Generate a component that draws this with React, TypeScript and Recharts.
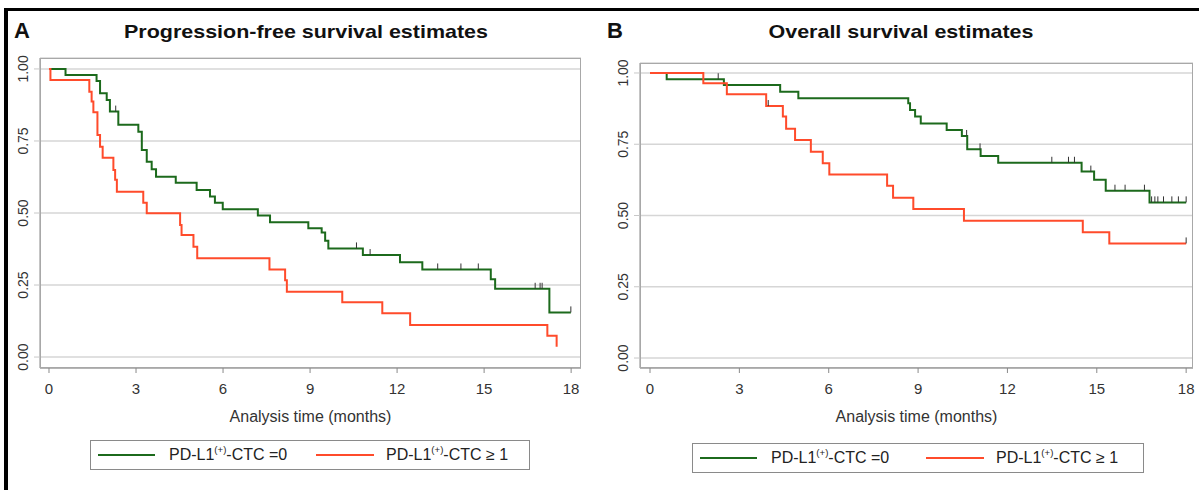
import React from 'react';
import {
  ComposedChart,
  Line,
  Scatter,
  XAxis,
  YAxis,
  CartesianGrid,
} from 'recharts';

// Kaplan-Meier step points: t = months, s = survival probability
const pfsCtc0 = [
  { t: 0, s: 1 }, { t: 0.57, s: 0.979 }, { t: 1.64, s: 0.958 }, { t: 1.76, s: 0.916 },
  { t: 1.99, s: 0.892 }, { t: 2.1, s: 0.852 }, { t: 2.39, s: 0.806 }, { t: 3.08, s: 0.782 },
  { t: 3.2, s: 0.719 }, { t: 3.37, s: 0.678 }, { t: 3.54, s: 0.652 }, { t: 3.69, s: 0.626 },
  { t: 4.37, s: 0.605 }, { t: 5.09, s: 0.58 }, { t: 5.55, s: 0.557 }, { t: 5.72, s: 0.536 },
  { t: 5.99, s: 0.513 }, { t: 7.2, s: 0.491 }, { t: 7.62, s: 0.468 }, { t: 8.94, s: 0.447 },
  { t: 9.4, s: 0.432 }, { t: 9.52, s: 0.404 }, { t: 9.63, s: 0.377 }, { t: 10.82, s: 0.354 },
  { t: 12.1, s: 0.329 }, { t: 12.87, s: 0.304 }, { t: 15.23, s: 0.27 }, { t: 15.38, s: 0.237 },
  { t: 17.25, s: 0.155 }, { t: 17.99, s: 0.155 },
];

const pfsCtc1 = [
  { t: 0, s: 1 }, { t: 0.05, s: 0.962 }, { t: 1.39, s: 0.921 }, { t: 1.47, s: 0.887 },
  { t: 1.53, s: 0.85 }, { t: 1.67, s: 0.771 }, { t: 1.76, s: 0.73 }, { t: 1.85, s: 0.692 },
  { t: 2.22, s: 0.649 }, { t: 2.28, s: 0.615 }, { t: 2.34, s: 0.574 }, { t: 3.25, s: 0.536 },
  { t: 3.37, s: 0.499 }, { t: 4.52, s: 0.458 }, { t: 4.57, s: 0.424 }, { t: 4.98, s: 0.383 },
  { t: 5.11, s: 0.343 }, { t: 7.6, s: 0.304 }, { t: 8.14, s: 0.267 }, { t: 8.2, s: 0.227 },
  { t: 10.11, s: 0.19 }, { t: 11.49, s: 0.152 }, { t: 12.45, s: 0.111 }, { t: 17.18, s: 0.074 },
  { t: 17.5, s: 0.036 },
];

const osCtc0 = [
  { t: 0, s: 1 }, { t: 0.56, s: 0.978 }, { t: 2.48, s: 0.958 }, { t: 4.37, s: 0.934 },
  { t: 4.98, s: 0.911 }, { t: 8.67, s: 0.894 }, { t: 8.73, s: 0.87 }, { t: 8.9, s: 0.847 },
  { t: 9.09, s: 0.823 }, { t: 9.96, s: 0.8 }, { t: 10.47, s: 0.779 }, { t: 10.65, s: 0.732 },
  { t: 11.1, s: 0.709 }, { t: 11.69, s: 0.685 }, { t: 14.49, s: 0.654 }, { t: 14.91, s: 0.625 },
  { t: 15.3, s: 0.587 }, { t: 16.77, s: 0.546 }, { t: 18, s: 0.546 },
];

const osCtc1 = [
  { t: 0, s: 1 }, { t: 1.79, s: 0.964 }, { t: 2.58, s: 0.925 }, { t: 3.9, s: 0.884 },
  { t: 4.46, s: 0.847 }, { t: 4.57, s: 0.804 }, { t: 4.87, s: 0.765 }, { t: 5.4, s: 0.724 },
  { t: 5.8, s: 0.683 }, { t: 6.02, s: 0.644 }, { t: 7.96, s: 0.604 }, { t: 8.16, s: 0.562 },
  { t: 8.84, s: 0.523 }, { t: 10.54, s: 0.482 }, { t: 14.53, s: 0.441 }, { t: 15.42, s: 0.402 },
  { t: 18, s: 0.402 },
];

// censored observations (tick marks)
const pfsCtc0Censored = [
  { t: 2.3, s: 0.852 }, { t: 10.6, s: 0.377 }, { t: 11.07, s: 0.354 }, { t: 13.4, s: 0.304 },
  { t: 14.2, s: 0.304 }, { t: 14.8, s: 0.304 }, { t: 16.76, s: 0.237 }, { t: 16.93, s: 0.237 },
  { t: 17.0, s: 0.237 }, { t: 17.99, s: 0.155 },
];
const pfsCtc1Censored: { t: number; s: number }[] = [];

const osCtc0Censored = [
  { t: 2.29, s: 0.978 }, { t: 10.63, s: 0.779 }, { t: 11.08, s: 0.732 }, { t: 13.49, s: 0.685 },
  { t: 14.05, s: 0.685 }, { t: 14.25, s: 0.685 }, { t: 14.8, s: 0.654 }, { t: 15.61, s: 0.587 },
  { t: 15.95, s: 0.587 }, { t: 16.6, s: 0.587 }, { t: 16.84, s: 0.546 }, { t: 16.95, s: 0.546 },
  { t: 17.05, s: 0.546 }, { t: 17.24, s: 0.546 }, { t: 17.52, s: 0.546 }, { t: 17.74, s: 0.546 },
  { t: 18, s: 0.546 },
];
const osCtc1Censored = [{ t: 3.97, s: 0.884 }, { t: 18, s: 0.402 }];

const monthTicks = [0, 3, 6, 9, 12, 15, 18];
const survivalTicks = [0, 0.25, 0.5, 0.75, 1];

const GREEN = '#1c6a1c';
const RED = '#ff4b2b';
const AXIS = '#8a8a8a';
const FONT = '"Liberation Sans", Arial, sans-serif';

const CensorMark = (props: any) => {
  const { cx, cy } = props;
  if (cx == null || cy == null) return <g />;
  return <line x1={cx} x2={cx} y1={cy} y2={cy - 6} stroke="#333" strokeWidth={1} />;
};

const YTick = (props: any) => {
  const { x, y, payload } = props;
  const cx = x - 9;
  return (
    <text
      transform={`translate(${cx},${y}) rotate(-90)`}
      textAnchor="middle"
      dominantBaseline="central"
      fontSize={14}
      fill="#333"
      fontFamily={FONT}
    >
      {Number(payload.value).toFixed(2)}
    </text>
  );
};

interface PanelProps {
  left: number;
  width: number;
  marginTop: number;
  marginRight: number;
  xDomain: [number, number];
  yDomain: [number, number];
  series0: { t: number; s: number }[];
  series1: { t: number; s: number }[];
  censor0: { t: number; s: number }[];
  censor1: { t: number; s: number }[];
  letter: string;
  title: string;
  titleCenter: number;
  legendLeft: number;
  legendWidth: number;
  legendTop: number;
  redOffset: number;
}

const LegendLabel = ({ suffix }: { suffix: string }) => (
  <span>
    PD-L1<sup style={{ fontSize: '0.6em', verticalAlign: '0.7em', lineHeight: 0 }}>(+)</sup>-CTC {suffix}
  </span>
);

function Panel(p: PanelProps) {
  const height = 490;
  const plotLeft = 40;
  const plotTop = p.marginTop;
  const plotWidth = p.width - plotLeft - p.marginRight;
  const plotHeight = height - plotTop - 122;
  return (
    <div style={{ position: 'absolute', left: p.left, top: 0, width: p.width, height }}>
      <div
        style={{
          position: 'absolute', left: p.letter === 'A' ? 14 : 7, top: 20,
          fontSize: 22, fontWeight: 'bold', lineHeight: 1, fontFamily: FONT, color: '#111',
        }}
      >
        {p.letter}
      </div>
      <div
        style={{
          position: 'absolute', left: p.titleCenter - 200, width: 400, top: 22, textAlign: 'center',
          fontSize: 19, fontWeight: 'bold', lineHeight: 1, fontFamily: FONT, color: '#111',
          transform: 'scaleX(1.13)',
        }}
      >
        {p.title}
      </div>
      <ComposedChart
        width={p.width}
        height={height}
        margin={{ top: p.marginTop, right: p.marginRight, bottom: 0, left: 0 }}
      >
        <CartesianGrid vertical={false} stroke="#d6d6d6" strokeWidth={1.5} />
        <XAxis
          type="number"
          dataKey="t"
          domain={p.xDomain}
          ticks={monthTicks}
          allowDataOverflow
          height={122}
          stroke={AXIS}
          tickSize={5}
          tickMargin={10}
          tick={{ fontSize: 15, fill: '#333', fontFamily: FONT }}
          label={{
            value: 'Analysis time (months)', position: 'insideTop', offset: 43,
            style: { fontSize: 16, fill: '#333', fontFamily: FONT },
          }}
        />
        <YAxis
          type="number"
          dataKey="s"
          domain={p.yDomain}
          ticks={survivalTicks}
          allowDataOverflow
          width={40}
          stroke={AXIS}
          tickLine={{ stroke: '#c8c8c8' }}
          tickSize={6}
          tick={<YTick />}
        />
        <Line data={p.series0} dataKey="s" type="stepAfter" stroke={GREEN} strokeWidth={2} dot={false} isAnimationActive={false} />
        <Line data={p.series1} dataKey="s" type="stepAfter" stroke={RED} strokeWidth={2} dot={false} isAnimationActive={false} />
        <Scatter data={p.censor0} dataKey="s" shape={<CensorMark />} isAnimationActive={false} />
        <Scatter data={p.censor1} dataKey="s" shape={<CensorMark />} isAnimationActive={false} />
      </ComposedChart>
      <div
        style={{
          position: 'absolute', left: plotLeft, top: plotTop, width: plotWidth, height: plotHeight,
          border: '1px solid #a8a8a8', boxSizing: 'border-box', pointerEvents: 'none',
        }}
      />
      <div
        style={{
          position: 'absolute', left: p.legendLeft, top: p.legendTop, width: p.legendWidth, height: 30,
          border: '1px solid #8a8a8a', boxSizing: 'border-box', fontFamily: FONT, fontSize: 16, color: '#222',
        }}
      >
        <div style={{ position: 'absolute', left: 7, top: 13, width: 57, height: 2, background: GREEN }} />
        <div style={{ position: 'absolute', left: 78, top: 5, lineHeight: '18px', whiteSpace: 'nowrap' }}>
          <LegendLabel suffix="=0" />
        </div>
        <div style={{ position: 'absolute', left: p.redOffset, top: 13, width: 58, height: 2, background: RED }} />
        <div style={{ position: 'absolute', left: p.redOffset + 70, top: 5, lineHeight: '18px', whiteSpace: 'nowrap' }}>
          <LegendLabel suffix="≥ 1" />
        </div>
      </div>
    </div>
  );
}

export default function App() {
  return (
    <div style={{ position: 'absolute', left: 0, top: 0, width: 1199, height: 490, background: '#fff', overflow: 'hidden' }}>
      <Panel
        left={0}
        width={600}
        marginTop={58}
        marginRight={19}
        xDomain={[-0.31, 18.34]}
        yDomain={[-0.038, 1.038]}
        series0={pfsCtc0}
        series1={pfsCtc1}
        censor0={pfsCtc0Censored}
        censor1={pfsCtc1Censored}
        letter="A"
        title="Progression-free survival estimates"
        titleCenter={306}
        legendLeft={90}
        legendWidth={440}
        legendTop={440}
        redOffset={225}
      />
      <Panel
        left={600}
        width={599}
        marginTop={63}
        marginRight={6}
        xDomain={[-0.336, 18.23]}
        yDomain={[-0.035, 1.035]}
        series0={osCtc0}
        series1={osCtc1}
        censor0={osCtc0Censored}
        censor1={osCtc1Censored}
        letter="B"
        title="Overall survival estimates"
        titleCenter={301}
        legendLeft={92}
        legendWidth={452}
        legendTop={443}
        redOffset={233}
      />
      <div style={{ position: 'absolute', left: 4, top: 8, width: 1195, height: 3, background: '#000' }} />
      <div style={{ position: 'absolute', left: 4, top: 8, width: 4, height: 482, background: '#000' }} />
    </div>
  );
}
